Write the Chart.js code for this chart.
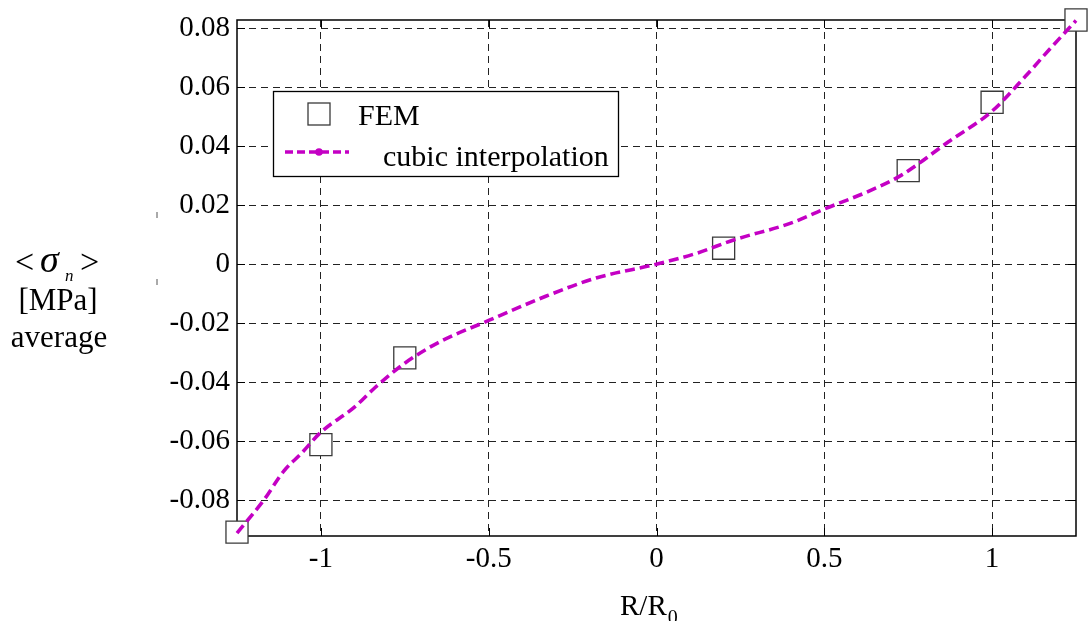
<!DOCTYPE html>
<html>
<head>
<meta charset="utf-8">
<title>average normal stress vs R/R0</title>
<script src="https://cdn.jsdelivr.net/npm/chart.js@4.4.1/dist/chart.umd.min.js"></script>
<style>
    html, body { margin: 0; padding: 0; background: #fff; }
    #stressChart { display: block; }
</style>
</head>
<body>
<canvas id="stressChart" width="1088" height="621"></canvas>
<script>
// FEM results
const femX = [-1.25, -1, -0.75, 0.2, 0.75, 1, 1.25];
const femY = [-0.0909, -0.0612, -0.0318, 0.0054, 0.0317, 0.0549, 0.0828];

// cubic interpolation curve
const curveX = [-1.25, -1.17, -1.11, -1.06, -1.0, -0.9, -0.84, -0.75, -0.65, -0.5, -0.33, -0.18, 0,
                0.12, 0.23, 0.4, 0.5, 0.63, 0.73, 0.87, 1.0, 1.1, 1.17, 1.25];
const curveY = [-0.0912, -0.0800, -0.0701, -0.0644, -0.0570, -0.0485, -0.0420, -0.0336, -0.0266, -0.0191, -0.0109, -0.0047, 0,
                0.0037, 0.0082, 0.0139, 0.0187, 0.0246, 0.0302, 0.0415, 0.0519, 0.0638, 0.0727, 0.0826];

// axes
const xTicks = [-1, -0.5, 0, 0.5, 1];
const xTickLabels = ['-1', '-0.5', '0', '0.5', '1'];
const yTicks = [-0.08, -0.06, -0.04, -0.02, 0, 0.02, 0.04, 0.06, 0.08];
const yTickLabels = ['-0.08', '-0.06', '-0.04', '-0.02', '0', '0.02', '0.04', '0.06', '0.08'];
const xRange = [-1.25, 1.25];
const yRange = [-0.0922, 0.0828];

const SERIF = '"Liberation Serif", "Times New Roman", serif';
const MAGENTA = '#c400c4';
const MARKER_EDGE = '#3a3a3a';

const toPoints = (xs, ys) => xs.map((x, i) => ({ x: x, y: ys[i] }));

// box, inner ticks, axis titles
const framePlugin = {
    id: 'frame',
    beforeDatasetsDraw(chart) {
        const ctx = chart.ctx;
        const a = chart.chartArea;
        const sx = chart.scales.x;
        const sy = chart.scales.y;
        const tl = 8;

        ctx.save();
        ctx.strokeStyle = '#000';
        ctx.lineWidth = 1.5;
        ctx.setLineDash([]);
        ctx.strokeRect(a.left, a.top, a.right - a.left, a.bottom - a.top);

        ctx.lineWidth = 1;
        ctx.beginPath();
        xTicks.forEach(v => {
            const px = Math.round(sx.getPixelForValue(v)) + 0.5;
            ctx.moveTo(px, a.bottom); ctx.lineTo(px, a.bottom - tl);
            ctx.moveTo(px, a.top); ctx.lineTo(px, a.top + tl);
        });
        yTicks.forEach(v => {
            const py = Math.round(sy.getPixelForValue(v)) + 0.5;
            ctx.moveTo(a.left, py); ctx.lineTo(a.left + tl, py);
            ctx.moveTo(a.right, py); ctx.lineTo(a.right - tl, py);
        });
        ctx.stroke();

        // small marks left of the tick labels
        ctx.strokeStyle = '#555';
        ctx.beginPath();
        ctx.moveTo(157, 212); ctx.lineTo(157, 218);
        ctx.moveTo(157, 279); ctx.lineTo(157, 285);
        ctx.stroke();

        // x title: R/R0
        ctx.fillStyle = '#000';
        ctx.textBaseline = 'alphabetic';
        ctx.textAlign = 'left';
        ctx.font = '29px ' + SERIF;
        const xt = 'R/R';
        const xtW = ctx.measureText(xt).width;
        const x0 = 620;
        ctx.fillText(xt, x0, 615);
        ctx.font = '20px ' + SERIF;
        ctx.fillText('0', x0 + xtW + 1, 624);

        // y title: <σn> [MPa] average
        ctx.font = '34px ' + SERIF;
        ctx.fillText('<', 15, 273);
        ctx.font = 'italic 38px ' + SERIF;
        ctx.fillText('σ', 40, 272);
        ctx.font = 'italic 17px ' + SERIF;
        ctx.fillText('n', 65, 281);
        ctx.font = '34px ' + SERIF;
        ctx.fillText('>', 80, 273);
        ctx.font = '31px ' + SERIF;
        ctx.textAlign = 'center';
        ctx.fillText('[MPa]', 58, 310);
        ctx.fillText('average', 59, 347);
        ctx.restore();
    },
    afterDraw(chart) {
        // legend
        const ctx = chart.ctx;
        const ds = chart.data.datasets;
        const box = { left: 273.5, top: 91.5, width: 345, height: 85 };

        ctx.save();
        ctx.fillStyle = '#fff';
        ctx.fillRect(box.left, box.top, box.width, box.height);
        ctx.strokeStyle = '#000';
        ctx.lineWidth = 1.3;
        ctx.strokeRect(box.left, box.top, box.width, box.height);

        // FEM marker
        ctx.strokeStyle = MARKER_EDGE;
        ctx.lineWidth = 1.3;
        ctx.strokeRect(308, 103, 22, 22);

        // interpolation line sample
        ctx.strokeStyle = MAGENTA;
        ctx.lineWidth = 3.5;
        ctx.setLineDash([8, 4]);
        ctx.beginPath();
        ctx.moveTo(285, 152);
        ctx.lineTo(349, 152);
        ctx.stroke();
        ctx.setLineDash([]);
        ctx.fillStyle = MAGENTA;
        ctx.beginPath();
        ctx.arc(319, 152, 3.8, 0, Math.PI * 2);
        ctx.fill();

        ctx.fillStyle = '#000';
        ctx.font = '30px ' + SERIF;
        ctx.textAlign = 'left';
        ctx.textBaseline = 'alphabetic';
        ctx.fillText(ds[1].label, 358, 125);
        ctx.fillText(ds[0].label, 383, 166);
        ctx.restore();
    }
};

const ctx = document.getElementById('stressChart').getContext('2d');

new Chart(ctx, {
    type: 'scatter',
    data: {
        datasets: [
            {
                label: 'cubic interpolation',
                data: toPoints(curveX, curveY),
                showLine: true,
                borderColor: MAGENTA,
                borderWidth: 3.6,
                borderDash: [10, 5],
                pointRadius: 0,
                cubicInterpolationMode: 'monotone',
                clip: false,
                order: 0
            },
            {
                label: 'FEM',
                data: toPoints(femX, femY),
                showLine: false,
                pointStyle: 'rect',
                pointRadius: 15.6,
                pointBorderWidth: 1.3,
                pointBorderColor: MARKER_EDGE,
                pointBackgroundColor: '#fff',
                clip: false,
                order: 1
            }
        ]
    },
    options: {
        responsive: false,
        animation: false,
        devicePixelRatio: 1,
        layout: {
            autoPadding: false,
            padding: { top: 20, right: 12, left: 0, bottom: 0 }
        },
        plugins: {
            legend: { display: false },
            tooltip: { enabled: false }
        },
        scales: {
            x: {
                type: 'linear',
                min: xRange[0],
                max: xRange[1],
                afterBuildTicks: axis => { axis.ticks = xTicks.map(v => ({ value: v })); },
                afterFit: axis => {
                    axis.height = 85;
                    axis.paddingLeft = 0;
                    axis.paddingRight = 0;
                },
                ticks: {
                    color: '#000',
                    font: { family: SERIF, size: 29 },
                    padding: 6,
                    maxRotation: 0,
                    callback: (value, index) => xTickLabels[index]
                },
                grid: { color: '#222', lineWidth: 1, drawTicks: false },
                border: { display: false, dash: [7, 5] }
            },
            y: {
                type: 'linear',
                min: yRange[0],
                max: yRange[1],
                afterBuildTicks: axis => { axis.ticks = yTicks.map(v => ({ value: v })); },
                afterFit: axis => {
                    axis.width = 237;
                    axis.paddingTop = 0;
                    axis.paddingBottom = 0;
                },
                ticks: {
                    color: '#000',
                    font: { family: SERIF, size: 29 },
                    padding: 7,
                    callback: (value, index) => yTickLabels[index]
                },
                grid: { color: '#222', lineWidth: 1, drawTicks: false },
                border: { display: false, dash: [7, 5] }
            }
        }
    },
    plugins: [framePlugin]
});
</script>
</body>
</html>
